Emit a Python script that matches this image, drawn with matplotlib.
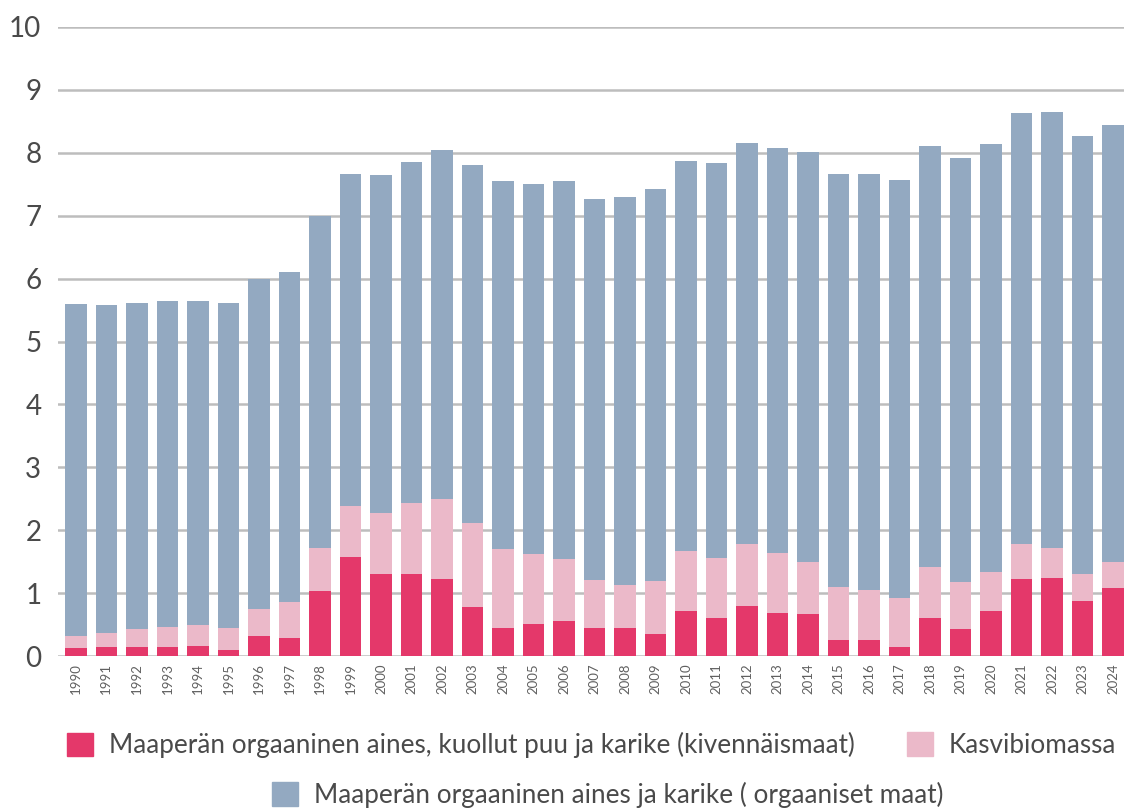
import matplotlib
matplotlib.use("Agg")
import matplotlib.pyplot as plt
from matplotlib.patches import Patch
import numpy as np

years = [str(y) for y in range(1990, 2025)]

# Maaperän orgaaninen aines, kuollut puu ja karike (kivennäismaat)
mineral = [0.13, 0.14, 0.15, 0.15, 0.16, 0.09, 0.32, 0.28, 1.04, 1.58,
           1.31, 1.31, 1.23, 0.78, 0.44, 0.51, 0.55, 0.45, 0.45, 0.35,
           0.71, 0.60, 0.79, 0.68, 0.67, 0.25, 0.26, 0.14, 0.61, 0.43,
           0.72, 1.22, 1.24, 0.88, 1.09]
# Kasvibiomassa
biomass = [0.19, 0.22, 0.28, 0.32, 0.33, 0.36, 0.43, 0.58, 0.68, 0.81,
           0.97, 1.12, 1.26, 1.34, 1.27, 1.12, 1.00, 0.76, 0.68, 0.85,
           0.96, 0.96, 0.99, 0.96, 0.82, 0.85, 0.79, 0.78, 0.81, 0.75,
           0.62, 0.56, 0.48, 0.42, 0.40]
# Maaperän orgaaninen aines ja karike (orgaaniset maat)
organic = [5.27, 5.22, 5.18, 5.17, 5.15, 5.17, 5.24, 5.25, 5.28, 5.28,
           5.36, 5.42, 5.55, 5.69, 5.84, 5.88, 6.00, 6.05, 6.16, 6.22,
           6.20, 6.28, 6.37, 6.44, 6.52, 6.57, 6.62, 6.65, 6.69, 6.74,
           6.80, 6.86, 6.93, 6.96, 6.95]

red = "#E4386A"
pink = "#EBB9C9"
blue = "#93A9C1"
grid_col = "#BDBDBD"
txt_col = "#4A4A4A"

plt.rcParams["font.family"] = ["Lato", "DejaVu Sans"]

fig = plt.figure(figsize=(11.24, 8.10), dpi=100)
ax = fig.add_axes([0.0516, 0.19, 0.9484, 0.7767])

x = np.arange(len(years))
w = 0.71
bottom2 = np.array(mineral)
bottom3 = bottom2 + np.array(biomass)
ax.bar(x, mineral, w, color=red, zorder=3)
ax.bar(x, biomass, w, bottom=bottom2, color=pink, zorder=3)
ax.bar(x, organic, w, bottom=bottom3, color=blue, zorder=3)

ax.set_ylim(0, 10)
ax.set_xlim(-0.585, len(years) - 1 + w / 2)
ax.set_yticks(range(0, 11))
ax.yaxis.grid(True, color=grid_col, linewidth=1.8)
ax.set_axisbelow(True)
for s in ax.spines.values():
    s.set_visible(False)
ax.tick_params(axis="y", length=0, pad=12, labelsize=20, labelcolor=txt_col)
ax.set_xticks(x)
ax.set_xticklabels(years, rotation=90, fontsize=9.5, color="#606060")
ax.tick_params(axis="x", length=0, pad=5)

h_red = Patch(color=red, label="Maaperän orgaaninen aines, kuollut puu ja karike (kivennäismaat)")
h_pink = Patch(color=pink, label="Kasvibiomassa")
h_blue = Patch(color=blue, label="Maaperän orgaaninen aines ja karike ( orgaaniset maat)")

leg_kw = dict(frameon=False, handlelength=1.0, handleheight=1.0, handletextpad=0.6,
              borderpad=0, borderaxespad=0, loc="center left",
              prop={"size": 18.8}, labelcolor=txt_col)
fig.legend(handles=[h_red], bbox_to_anchor=(0.0596, 0.080), **leg_kw)
fig.legend(handles=[h_pink], bbox_to_anchor=(0.807, 0.080), **leg_kw)
fig.legend(handles=[h_blue], bbox_to_anchor=(0.242, 0.0185), **leg_kw)

fig.savefig("out.png", dpi=100)
